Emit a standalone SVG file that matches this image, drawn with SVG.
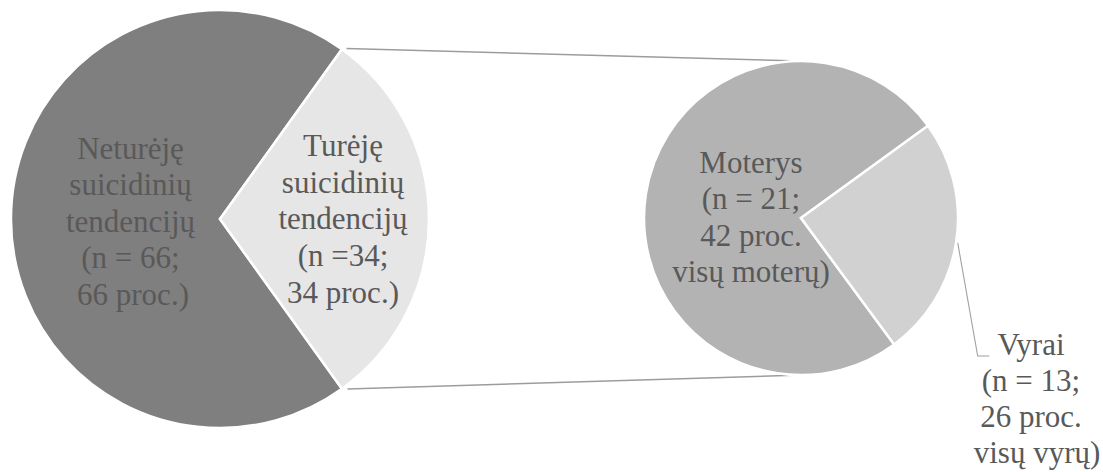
<svg xmlns="http://www.w3.org/2000/svg" width="1103" height="472" viewBox="0 0 1103 472">
<style>
.slice{stroke:#ffffff;stroke-width:2.5;stroke-linejoin:miter}
.lbl{font-family:"Liberation Serif","Times New Roman",serif;font-size:31px;fill:#595959;text-anchor:middle}
.conn{fill:none;stroke:#9c9c9c;stroke-width:1.5}
.lead{fill:none;stroke:#a0a0a0;stroke-width:1.1}
</style>
<rect width="1103" height="472" fill="#ffffff"/>
<g id="connectors">
<line class="conn" x1="346.5" y1="48.5" x2="801" y2="61"/>
<line class="conn" x1="347.5" y1="389" x2="801" y2="375"/>
<polyline class="lead" points="957.7,242.7 977.7,356 989.3,356"/>
</g>
<g id="node-neturejo">
<path class="slice" fill="#7f7f7f" d="M220,219 L341.95,49.3 A209,209 0 1 0 341.95,388.7 Z"/>
<text class="lbl"><tspan x="130.5" y="158.5">Neturėję</tspan><tspan x="130.5" y="195">suicidinių</tspan><tspan x="130.5" y="231.7">tendencijų</tspan><tspan x="130.5" y="268.4">(n = 66;</tspan><tspan x="133" y="305">66 proc.)</tspan></text>
</g>
<g id="node-turejo">
<path class="slice" fill="#e7e6e6" d="M220,219 L341.95,49.3 A209,209 0 0 1 341.95,388.7 Z"/>
<text class="lbl"><tspan x="343" y="156">Turėję</tspan><tspan x="343" y="192.7">suicidinių</tspan><tspan x="343" y="229.4">tendencijų</tspan><tspan x="343" y="266">(n =34;</tspan><tspan x="343" y="302.7">34 proc.)</tspan></text>
</g>
<g id="node-moterys">
<path class="slice" fill="#b3b3b3" d="M801,218 L928,125.7 A157,157 0 1 0 894.2,344.4 Z"/>
<text class="lbl"><tspan x="751" y="172.5">Moterys</tspan><tspan x="751" y="209">(n = 21;</tspan><tspan x="751" y="245.5">42 proc.</tspan><tspan x="751" y="282">visų moterų)</tspan></text>
</g>
<g id="node-vyrai">
<path class="slice" fill="#d1d1d1" d="M801,218 L928,125.7 A157,157 0 0 1 894.2,344.4 Z"/>
<text class="lbl"><tspan x="1031" y="355">Vyrai</tspan><tspan x="1031" y="391">(n = 13;</tspan><tspan x="1031" y="427">26 proc.</tspan><tspan x="1037" y="462.5">visų vyrų)</tspan></text>
</g>
</svg>
